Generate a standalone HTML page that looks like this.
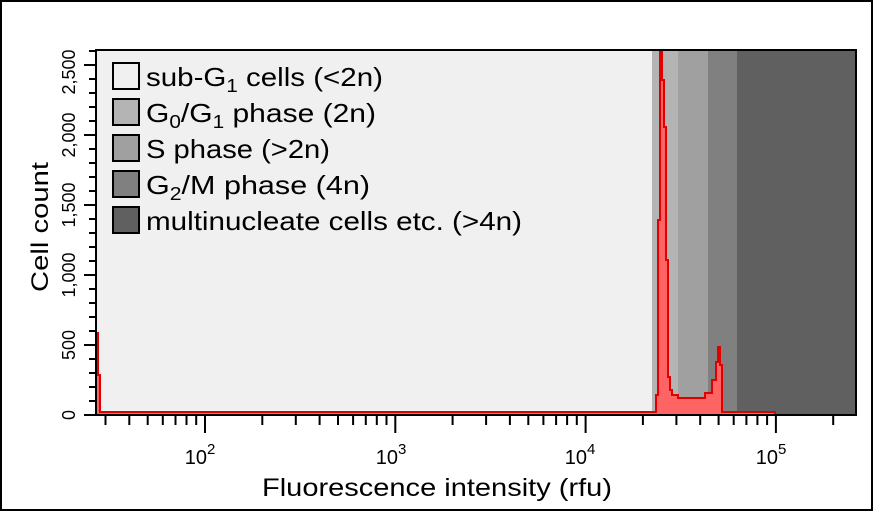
<!DOCTYPE html>
<html><head><style>body{margin:0;background:#fff}svg{display:block}text{font-family:"Liberation Sans",sans-serif;fill:#000}</style></head>
<body>
<svg width="874" height="512" viewBox="0 0 874 512" xmlns="http://www.w3.org/2000/svg">
<rect x="1" y="1" width="871" height="509" fill="#fff" stroke="#000" stroke-width="2"/>
<rect x="96" y="50" width="556" height="365" fill="#f0f0f0"/>
<rect x="652" y="50" width="26" height="365" fill="#b4b4b4"/>
<rect x="678" y="50" width="30" height="365" fill="#a0a0a0"/>
<rect x="708" y="50" width="29" height="365" fill="#808080"/>
<rect x="737" y="50" width="119" height="365" fill="#606060"/>
<path d="M96,415 L96,333 L98,333 L98,375 L100,375 L100,412 L656,412 L656,395 L658,395 L658,220 L660,220 L660,50 L662,50 L662,80 L664,80 L664,127 L666,127 L666,260 L668,260 L668,377 L670,377 L670,390 L672,390 L672,395 L678,395 L678,398 L705,398 L705,393 L712,393 L712,380 L716,380 L716,362 L718,362 L718,347 L720,347 L720,365 L722,365 L722,412 L775,412 L775,415 Z" fill="#ff6464" stroke="#e00000" stroke-width="2"/>
<rect x="96" y="50" width="760" height="365" fill="none" stroke="#000" stroke-width="2"/>
<g stroke="#000" stroke-width="2">
<path d="M84,415H96M89,401H96M89,387H96M89,373H96M89,359H96M84,345H96M89,331H96M89,317H96M89,303H96M89,289H96M84,275H96M89,261H96M89,247H96M89,233H96M89,219H96M84,205H96M89,191H96M89,177H96M89,163H96M89,149H96M84,135H96M89,121H96M89,107H96M89,93H96M89,79H96M84,65H96M89,51H96"/>
<path d="M105.5,415V425M129.3,415V425M147.7,415V425M162.8,415V425M175.5,415V425M186.5,415V425M196.2,415V425M205,415V433M262.3,415V425M295.8,415V425M319.6,415V425M338,415V425M353.1,415V425M365.8,415V425M376.8,415V425M386.5,415V425M395.3,415V433M452.6,415V425M486.1,415V425M509.9,415V425M528.3,415V425M543.4,415V425M556.1,415V425M567.1,415V425M576.8,415V425M585.6,415V433M642.9,415V425M676.4,415V425M700.2,415V425M718.6,415V425M733.7,415V425M746.4,415V425M757.4,415V425M767.1,415V425M775.9,415V433M833.2,415V425"/>
</g>
<text x="48" y="227" font-size="24" text-anchor="middle" textLength="130" lengthAdjust="spacingAndGlyphs" transform="rotate(-90 48 227)">Cell count</text>
<g font-size="18" text-anchor="middle">
<text transform="translate(75,415) rotate(-90)">0</text>
<text transform="translate(75,345) rotate(-90)" textLength="30" lengthAdjust="spacingAndGlyphs">500</text>
<text transform="translate(75,275) rotate(-90)" textLength="45" lengthAdjust="spacingAndGlyphs">1,000</text>
<text transform="translate(75,205) rotate(-90)" textLength="45" lengthAdjust="spacingAndGlyphs">1,500</text>
<text transform="translate(75,135) rotate(-90)" textLength="45" lengthAdjust="spacingAndGlyphs">2,000</text>
<text transform="translate(75,72) rotate(-90)" textLength="45" lengthAdjust="spacingAndGlyphs">2,500</text>
</g>
<g font-size="20" text-anchor="middle">
<text x="200" y="464">10<tspan font-size="15" dy="-10">2</tspan></text>
<text x="391" y="464">10<tspan font-size="15" dy="-10">3</tspan></text>
<text x="580" y="464">10<tspan font-size="15" dy="-10">4</tspan></text>
<text x="771" y="464">10<tspan font-size="15" dy="-10">5</tspan></text>
</g>
<text x="262" y="496" font-size="25" textLength="350" lengthAdjust="spacingAndGlyphs">Fluorescence intensity (rfu)</text>
<g stroke="#000" stroke-width="2">
<rect x="113" y="63" width="26" height="26" fill="#f0f0f0"/>
<rect x="113" y="99" width="26" height="26" fill="#b4b4b4"/>
<rect x="113" y="135" width="26" height="26" fill="#a0a0a0"/>
<rect x="113" y="171" width="26" height="26" fill="#808080"/>
<rect x="113" y="207" width="26" height="26" fill="#606060"/>
</g>
<g font-size="26">
<text x="146" y="86" textLength="237" lengthAdjust="spacingAndGlyphs">sub-G<tspan font-size="18" dy="6">1</tspan><tspan dy="-6"> cells (&lt;2n)</tspan></text>
<text x="146" y="122" textLength="230" lengthAdjust="spacingAndGlyphs">G<tspan font-size="18" dy="6">0</tspan><tspan dy="-6">/G</tspan><tspan font-size="18" dy="6">1</tspan><tspan dy="-6"> phase (2n)</tspan></text>
<text x="146" y="158" textLength="184" lengthAdjust="spacingAndGlyphs">S phase (&gt;2n)</text>
<text x="146" y="194" textLength="224" lengthAdjust="spacingAndGlyphs">G<tspan font-size="18" dy="6">2</tspan><tspan dy="-6">/M phase (4n)</tspan></text>
<text x="146" y="230" textLength="376" lengthAdjust="spacingAndGlyphs">multinucleate cells etc. (&gt;4n)</text>
</g>
</svg>
</body></html>
